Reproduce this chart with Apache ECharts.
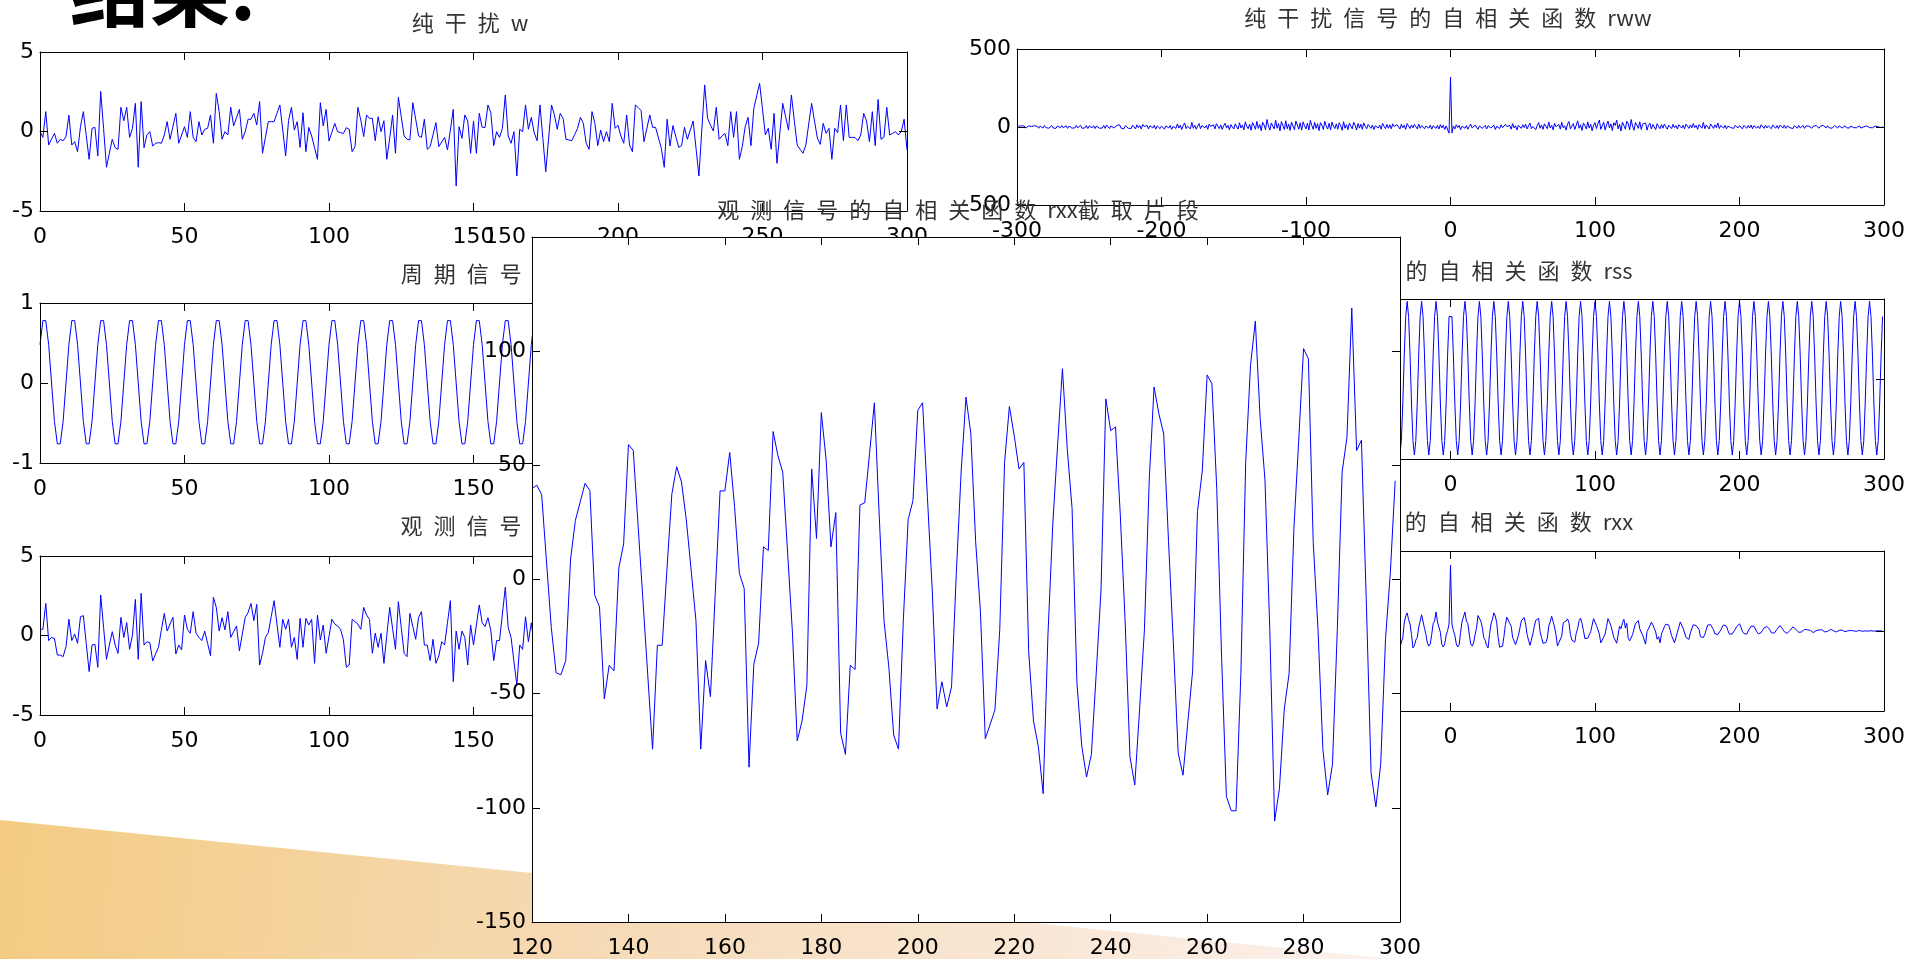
<!DOCTYPE html>
<html><head><meta charset="utf-8">
<script src="https://cdn.jsdelivr.net/npm/echarts/dist/echarts.min.js"></script>
<style>html,body{margin:0;padding:0;background:#fff;overflow:hidden}#c{width:1909px;height:959px}</style>
</head><body><div id="c"></div>
<script>
// ---------- data ----------
// 纯干扰 w, n = 0..300
const wData = [
0.0,-0.37,1.25,-0.85,-0.48,-0.12,-0.74,-0.49,-0.58,-0.32,
1.02,-0.85,-0.64,-1.27,0.30,1.25,-0.25,-1.75,0.20,0.26,
-1.54,2.52,0.20,-2.25,-1.37,-0.49,-1.02,-1.12,1.52,0.68,
1.52,-0.37,0.20,1.77,-2.25,1.88,-1.02,-0.22,-0.01,-0.91,
-0.74,-0.70,-0.74,-0.22,0.62,-0.49,0.32,1.14,-0.74,-0.22,
0.30,-0.37,1.25,-0.37,-0.64,0.62,-0.22,0.14,0.20,1.04,
-0.74,2.40,1.25,-0.49,-0.01,-0.22,1.52,0.35,0.87,1.39,
-0.49,-0.01,0.77,0.77,1.14,0.41,1.88,-1.37,-0.37,0.62,
0.62,0.62,1.14,1.67,0.09,-1.54,0.68,1.52,0.09,0.62,
-1.0,1.18,-1.27,0.26,-0.28,-1.02,-1.75,1.81,0.35,1.39,
-0.60,-0.05,0.51,-0.01,-0.07,-0.12,0.24,0.14,-1.27,-0.95,
1.52,0.72,-0.32,1.04,0.83,0.83,-0.58,0.93,-0.01,0.68,
-1.75,-0.43,1.04,-1.37,2.15,0.93,-0.28,-0.49,-0.53,1.81,
0.77,-0.28,-0.37,0.77,-1.12,-0.95,-0.2,0.56,-0.95,-0.66,
-0.37,-1.16,0.09,1.39,-3.43,0.30,-0.43,1.04,0.66,-1.37,
0.66,-1.37,
1.14,0.26,0.26,1.67,1.18,-0.89,-0.01,-0.37,0.20,2.30,
-0.28,-0.74,-0.01,-2.80,0.14,-0.01,1.67,0.14,0.89,-0.07,
-0.58,1.67,-0.43,-2.53,-0.43,1.67,1.04,0.14,1.14,0.83,
-0.49,-0.53,-0.58,-0.2,0.20,0.89,0.51,-0.74,-1.12,1.25,
0.51,-0.89,0.09,-0.64,-0.01,-0.64,1.77,0.20,0.39,-0.28,
-0.74,1.04,-0.85,-1.27,1.67,1.5,1.31,-0.64,0.20,1.04,
0.26,0.26,-0.4,-1.06,-2.25,0.77,-0.91,0.37,-0.32,-1.0,
-0.89,0.26,-0.49,0.09,0.66,-1.06,-2.80,0.1,2.93,0.83,
0.4,0.03,1.52,-0.49,-0.28,-0.12,-0.89,1.25,-0.37,1.25,
-1.75,-0.95,0.30,0.89,-0.89,1.46,2.25,3.03,1.4,-0.22,
0.20,-1.12,1.14,-2.0,-0.1,1.77,0.93,0.09,2.30,0.7,
-0.85,-1.12,-1.37,-0.85,0.47,1.77,0.65,-0.43,-0.81,0.51,
-0.12,0.20,-1.75,0.20,-0.07,1.67,-0.58,1.67,-0.37,-0.37,
-0.37,-0.58,-0.22,1.14,0.66,-0.64,1.25,-0.89,2.02,-0.49,
-0.37,1.52,-0.22,-0.12,-0.01,-0.22,-0.01,0.77,-1.16
];
// 周期信号 s, n = 0..175 (rest hidden under the inset)
const sData = [
0.48,0.78,0.78,0.48,0,-0.48,-0.76,-0.76,-0.48,0,
0.48,0.78,0.78,0.48,0,-0.48,-0.76,-0.76,-0.48,0,
0.48,0.78,0.78,0.48,0,-0.48,-0.76,-0.76,-0.48,0,
0.48,0.78,0.78,0.48,0,-0.48,-0.76,-0.76,-0.48,0,
0.48,0.78,0.78,0.48,0,-0.48,-0.76,-0.76,-0.48,0,
0.48,0.78,0.78,0.48,0,-0.48,-0.76,-0.76,-0.48,0,
0.48,0.78,0.78,0.48,0,-0.48,-0.76,-0.76,-0.48,0,
0.48,0.78,0.78,0.48,0,-0.48,-0.76,-0.76,-0.48,0,
0.48,0.78,0.78,0.48,0,-0.48,-0.76,-0.76,-0.48,0,
0.48,0.78,0.78,0.48,0,-0.48,-0.76,-0.76,-0.48,0,
0.48,0.78,0.78,0.48,0,-0.48,-0.76,-0.76,-0.48,0,
0.48,0.78,0.78,0.48,0,-0.48,-0.76,-0.76,-0.48,0,
0.48,0.78,0.78,0.48,0,-0.48,-0.76,-0.76,-0.48,0,
0.48,0.78,0.78,0.48,0,-0.48,-0.76,-0.76,-0.48,0,
0.48,0.78,0.78,0.48,0,-0.48,-0.76,-0.76,-0.48,0,
0.48,0.78,0.78,0.48,0,-0.48,-0.76,-0.76,-0.48,0,
0.48,0.78,0.78,0.48,0,-0.48,-0.76,-0.76,-0.48,0,
0.48,0.78,0.78,0.48,0,-0.48
];
// 观测信号 x, n = 0..173
const xData = [
0.39,0.39,2.02,-0.32,-0.12,-0.18,-1.23,-1.23,-1.33,-0.70,
1.02,-0.32,0.09,-0.49,1.18,1.25,-0.5,-2.27,-0.60,-0.56,
-2.0,2.55,0.51,-1.50,-0.6,0.24,-0.60,-1.12,1.14,-0.12,
0.81,-0.87,0.03,2.27,-1.50,2.65,-0.60,-0.39,-0.45,-1.60,
-1.16,-0.74,0.35,1.39,0.28,0.72,1.14,-1.16,-0.6,-0.91,
1.29,0.39,0.14,1.50,0.14,-0.12,-0.32,0.28,-0.5,-1.27,
2.40,1.77,0.28,1.12,0.35,1.50,-0.12,0.24,0.60,-0.96,
0.09,1.14,1.44,2.02,0.93,1.96,-1.86,-1.12,-0.12,0.18,
1.18,2.19,0.72,-0.74,1.02,0.39,1.02,-0.74,-0.12,-1.50,
1.08,-0.74,1.08,0.66,1.02,-1.75,1.29,-0.28,0.66,-1.12,
-0.07,1.02,0.72,0.60,0.39,-0.28,-2.0,-1.86,1.02,0.87,
0.72,0.39,1.77,1.29,1.02,-1.12,0.14,-0.74,0.14,-1.75,
0.01,1.77,0.45,-0.87,2.13,0.5,-1.12,-1.33,1.39,0.57,
-0.24,1.14,1.50,-0.60,-0.60,-1.58,-0.24,-1.75,-1.29,-0.39,
-0.60,0.81,2.19,-2.90,0.28,-0.87,0.28,-0.12,-1.86,0.66,
-0.60,0.66,1.92,0.81,0.56,1.12,0.30,-1.58,-0.32,-0.32,
1.35,3.03,0.51,-0.12,-1.65,-3.11,-0.60,-0.87,1.18,-0.39,
0.8,-0.5,1.0,0.2
];
// 纯干扰信号的自相关函数 rww, lag -299..299
const rwwLagStart = -299;
const rwwData = [
5,-6,8,-3,6,-7,4,7,-5,3,
-6,8,-2,5,-8,6,3,-7,9,-4,
6,-8,4,9,-6,3,-9,7,5,-5,
9,-5,2,8,-9,6,10,-7,3,-6,
10,-6,5,11,-8,4,-6,9,-10,7,
11,-5,8,-10,6,12,-8,4,-7,10,
-9,13,4,-10,7,14,-6,-11,9,4,
14,-7,5,-12,9,16,-8,4,-10,12,
6,-12,14,-5,9,-13,16,3,-8,10,
-13,8,16,-6,11,-14,7,18,-10,5,
11,-13,7,18,-6,10,-15,4,13,-9,
20,-7,12,-16,8,26,-10,5,14,-12,
30,-8,11,-14,6,22,-11,9,17,-6,
10,-15,19,3,-9,14,-12,21,5,-10,
13,-16,8,24,-7,11,-18,15,6,-13,
20,9,-14,27,-6,12,-19,33,4,-11,
18,-21,28,10,-15,36,-9,16,-24,30,
12,-17,48,7,-20,26,14,-12,44,-8,
22,-25,35,9,-16,40,-11,19,-22,31,
6,-18,38,13,-14,27,-20,33,8,-12,
25,-19,42,10,-15,30,-9,21,-23,28,
11,-16,36,7,-13,24,-18,32,5,-10,
20,-14,27,9,-21,34,-8,15,-17,25,
6,-12,30,11,-19,22,-7,18,-15,26,
4,-11,16,21,-9,13,-16,8,19,-6,
12,-14,23,5,-10,17,-8,14,-12,20,
3,-9,15,10,-13,18,-5,11,-15,22,
7,-10,13,-6,16,4,-12,19,-8,9,
14,-11,6,17,-7,12,-14,8,18,-9,
10,-13,15,-6,11,-16,7,12,-40,
320,
-38,6,-12,14,-4,10,-17,5,13,-8,
9,-14,3,18,-6,-11,12,4,-15,7,
16,-9,-3,11,-13,8,20,-7,-2,12,
-16,5,9,-10,14,-5,-12,17,3,-8,
10,-14,22,-6,8,-19,11,4,-9,15,
-4,18,-12,7,25,-10,3,14,-17,9,
28,-8,12,-15,20,5,-11,32,-6,10,
-18,24,2,-9,16,-14,30,-5,8,-20,
19,35,-12,6,22,-16,11,40,-8,14,
-22,26,9,-13,33,-7,18,-24,12,28,
-10,21,45,-15,8,30,-19,14,38,-6,
20,-23,27,10,44,-12,17,-26,31,9,
-14,36,22,-18,48,5,-21,29,13,-9,
33,-16,19,7,26,-20,11,24,-13,16,
8,-17,21,4,-11,15,-8,19,2,-14,
12,6,-10,17,-5,9,-13,14,3,-7,
11,-12,18,5,-9,13,-6,22,-4,10,
-15,16,7,-8,30,-11,12,4,-13,20,
8,-9,14,-5,26,-10,9,15,-7,11,
-12,6,13,-4,8,-9,10,3,-6,9,
8,-12,10,15,-8,9,-6,13,-11,8,
12,-7,6,-10,14,4,-9,11,-6,7,
10,-11,13,3,-8,9,-10,12,4,-7,
11,-9,7,10,-5,6,-10,9,3,-8,
10,-6,4,9,-9,7,-5,6,10,-8,
5,-7,9,3,-8,6,-5,10,1,-6,
8,-5,6,-8,4,9,-3,-7,8,3,
-7,5,8,-5,3,-7,6,5,-4,8,
-5,3,7,-7,5,1,-6,7,3,-4,
6,-5,3,6,-4,1,4,-4,3
];
// 周期信号的自相关函数 rss, lag -36..299 (left part hidden under the inset)
const rssLagStart = -36;
const rssData = [
-77,-95,-77,-30,30,78,
97,78,30,-30,-77,-95,-77,-30,30,78,
97,78,30,-30,-77,-95,-77,-30,30,78,
97,78,30,-30,-77,-95,-77,-30,30,78,
80,78,30,-30,-77,-95,-77,-30,30,78,
97,78,30,-30,-77,-95,-77,-30,30,78,
97,78,30,-30,-77,-95,-77,-30,30,78,
97,78,30,-30,-77,-95,-77,-30,30,78,
97,78,30,-30,-77,-95,-77,-30,30,78,
97,78,30,-30,-77,-95,-77,-30,30,78,
97,78,30,-30,-77,-95,-77,-30,30,78,
97,78,30,-30,-77,-95,-77,-30,30,78,
97,78,30,-30,-77,-95,-77,-30,30,78,
97,78,30,-30,-77,-95,-77,-30,30,78,
97,78,30,-30,-77,-95,-77,-30,30,78,
97,78,30,-30,-77,-95,-77,-30,30,78,
97,78,30,-30,-77,-95,-77,-30,30,78,
97,78,30,-30,-77,-95,-77,-30,30,78,
97,78,30,-30,-77,-95,-77,-30,30,78,
97,78,30,-30,-77,-95,-77,-30,30,78,
97,78,30,-30,-77,-95,-77,-30,30,78,
97,78,30,-30,-77,-95,-77,-30,30,78,
97,78,30,-30,-77,-95,-77,-30,30,78,
97,78,30,-30,-77,-95,-77,-30,30,78,
97,78,30,-30,-77,-95,-77,-30,30,78,
97,78,30,-30,-77,-95,-77,-30,30,78,
97,78,30,-30,-77,-95,-77,-30,30,78,
97,78,30,-30,-77,-95,-77,-30,30,78,
97,78,30,-30,-77,-95,-77,-30,30,78,
97,78,30,-30,-77,-95,-77,-30,30,78,
97,78,30,-30,-77,-95,-77,-30,30,78,
97,78,30,-30,-77,-95,-77,-30,30,78,
97,78,30,-30,-77,-95,-77,-30,30,78,
97,78,30,-30,-77,-95,-77,-30,30,78
];
// 观测信号的自相关函数 rxx, lag -35..299 (left part hidden under the inset)
const rxxLagStart = -35;
const rxxData = [
-101.3,-101.3,-41.3,51.3,93.8,113.1,70.6,43.6,-22,-105.8,-91.5,-56.7,-41.3,22.4,61,101.1,96.7,16.6,-22,-74.1,-94.4,-80.9,-22,47.1,62.3,118.9,56.5,61,-8.5,-84.7,-99.6,-80.9,-25.9,3.1,43.2,
412,
43.2,3.1,-25.9,-80.9,-99.6,-84.7,-8.5,61,56.5,118.9,
62.3,47.1,-22,-80.9,-94.4,-74.1,-22,16.6,96.7,101.1,
61,22.4,-41.3,-56.7,-91.5,-105.8,-22,43.6,70.6,113.1,
93.8,51.3,-41.3,-101.3,-101.3,-95,-33.6,39.8,85.7,89.6,
47.5,29.7,-40,-62.5,-85.7,-76,-27.8,16.6,63.7,72.6,
84.3,43.6,-22,-56.7,-90,-77.6,-18.1,28.2,66.8,65.2,
79.1,-4.6,-41.3,-76.6,-86.5,-72.8,-45.2,31.1,57.1,92.3,
59,24.3,-23.9,-93.8,-73.1,-62,-31.7,51.3,48.4,62.9,
75.8,51.3,-22,-57.1,-63.5,-69.7,-14.3,16.6,63.9,79.9,
47.5,3.1,-47.1,-55.8,-44.8,-56.7,-4.6,35.9,77.4,74.1,
34.5,26.2,-18.1,-74.3,-68.1,-38.4,-18.1,28.2,77.4,55.2,
33.6,32.6,-39.4,-37.6,-76.6,-67.2,29.3,14.3,52.3,73.1,
18.0,48.4,-46.5,-62.0,-70.6,-23.0,12.0,46.9,54.2,64.8,
12.7,14.3,-27.8,-37.1,-82.2,-3.9,2.7,32.0,55.6,38.8,
38.8,-6.2,-51.3,-35.5,-74.3,-18.1,4.1,26.2,42.7,49.4,
37.4,5.0,-28.8,-28.8,-74.3,-41.7,-8.9,23.7,56.5,59.1,
15.6,5.0,-40.0,-37.6,-52.3,-12.0,-6.9,39.0,42.1,34.0,
25.9,8.9,-35.5,-41.7,-40.9,-21.0,8.1,37.2,41.3,39.8,
30,8,-18,-28,-22,-12,5,25,38,42,
30,2,-20,-25,-18,-8,10,28,40,45,
25,-2,-15,-22,-20,0,15,30,36,30,
18,-5,-18,-20,-10,5,20,32,28,22,
8,-10,-16,-14,-6,12,24,34,22,10,
-4,-12,-15,-8,4,14,26,18,10,2,
-8,-12,-6,4,10,16,8,14,4,-4,
-10,-6,2,12,6,14,8,0,-6,-8,
-2,6,10,8,2,-3,-6,-2,4,8,
6,2,-4,-3,1,5,3,6,1,-3,
-2,2,4,1,-2,3,1,2,-1,1,
2,0,-1,2,1,0,1,0,0
];
// 观测信号的自相关函数 rxx 截取片段, index 120..299
const segStart = 120;
const segData = [
39.8,41.3,37.2,8.1,-21.0,-40.9,-41.7,-35.5,8.9,25.9,
34.0,42.1,39.0,-6.9,-12.0,-52.3,-37.6,-40.0,5.0,15.6,
59.1,56.5,23.7,-8.9,-41.7,-74.3,-28.8,-28.8,5.0,37.4,
49.4,42.7,26.2,4.1,-18.1,-74.3,-35.5,-51.3,-6.2,38.8,
38.8,55.6,32.0,2.7,-3.9,-82.2,-37.1,-27.8,14.3,12.7,
64.8,54.2,46.9,12.0,-23.0,-70.6,-62.0,-46.5,48.4,18.0,
73.1,52.3,14.3,29.3,-67.2,-76.6,-37.6,-39.4,32.6,33.6,
55.2,77.4,28.2,-18.1,-38.4,-68.1,-74.3,-18.1,26.2,34.5,
74.1,77.4,35.9,-4.6,-56.7,-44.8,-55.8,-47.1,3.1,47.5,
79.9,63.9,16.6,-14.3,-69.7,-63.5,-57.1,-22,51.3,75.8,
62.9,48.4,51.3,-31.7,-62,-73.1,-93.8,-23.9,24.3,59,
92.3,57.1,31.1,-45.2,-72.8,-86.5,-76.6,-41.3,-4.6,79.1,
65.2,66.8,28.2,-18.1,-77.6,-90,-56.7,-22,43.6,84.3,
72.6,63.7,16.6,-27.8,-76,-85.7,-62.5,-40,29.7,47.5,
89.6,85.7,39.8,-33.6,-95,-101.3,-101.3,-41.3,51.3,93.8,
113.1,70.6,43.6,-22,-105.8,-91.5,-56.7,-41.3,22.4,61,
101.1,96.7,16.6,-22,-74.1,-94.4,-80.9,-22,47.1,62.3,
118.9,56.5,61,-8.5,-84.7,-99.6,-80.9,-25.9,3.1,43.2
];
const titleW   = '纯\u2002干\u2002扰\u2002w';
const titleRww = '纯\u2002干\u2002扰\u2002信\u2002号\u2002的\u2002自\u2002相\u2002关\u2002函\u2002数\u2002rww';
const titleS   = '周\u2002期\u2002信\u2002号\u2002s';
const titleRss = '周\u2002期\u2002信\u2002号\u2002的\u2002自\u2002相\u2002关\u2002函\u2002数\u2002rss';
const titleX   = '观\u2002测\u2002信\u2002号\u2002x';
const titleRxx = '观\u2002测\u2002信\u2002号\u2002的\u2002自\u2002相\u2002关\u2002函\u2002数\u2002rxx';
const titleSeg = '观\u2002测\u2002信\u2002号\u2002的\u2002自\u2002相\u2002关\u2002函\u2002数\u2002rxx截\u2002取\u2002片\u2002段';
const heading  = '结果:';

// ---------- chart ----------
const pairs = (arr, start) => arr.map((v, i) => [start + i, v]);
const panels = [
  {grid:{left:40,  top:52,  width:867, height:159}, x:[0,300,50],    y:[-5,5,5],       data:pairs(wData,0)},
  {grid:{left:1017,top:49,  width:867, height:156}, x:[-300,300,100],y:[-500,500,500], data:pairs(rwwData,rwwLagStart)},
  {grid:{left:40,  top:303, width:867, height:160}, x:[0,300,50],    y:[-1,1,1],       data:pairs(sData,0)},
  {grid:{left:1017,top:299, width:867, height:160}, x:[-300,300,100],y:[-100,100,100], data:pairs(rssData,rssLagStart)},
  {grid:{left:40,  top:556, width:867, height:159}, x:[0,300,50],    y:[-5,5,5],       data:pairs(xData,0)},
  {grid:{left:1017,top:551, width:867, height:160}, x:[-300,300,100],y:[-500,500,500], data:pairs(rxxData,rxxLagStart)},
  {grid:{left:532, top:237, width:868, height:685}, x:[120,300,20],  y:[-150,150,50],  data:pairs(segData,segStart), inset:true}
];
const labelStyle = {color:'#000', fontFamily:'DejaVu Sans', fontSize:22};
const grid=[], xAxis=[], yAxis=[], series=[];
panels.forEach((p, i) => {
  const zb = p.inset ? 10 : 0;
  grid.push(Object.assign({show: !!p.inset, backgroundColor:'#fff', borderWidth:0, z:zb}, p.grid));
  const base = {gridIndex:i, type:'value', splitLine:{show:false},
    axisLine:{onZero:false, lineStyle:{color:'#000', width:1}},
    axisTick:{inside:true, length:8, lineStyle:{color:'#000', width:1}}, z:zb+3};
  const bx = Object.assign({}, base, {min:p.x[0], max:p.x[1], interval:p.x[2]});
  const by = Object.assign({}, base, {min:p.y[0], max:p.y[1], interval:p.y[2]});
  xAxis.push(Object.assign({}, bx, {position:'bottom', axisLabel:Object.assign({margin:15, showMinLabel:true, showMaxLabel:true}, labelStyle)}));
  xAxis.push(Object.assign({}, bx, {position:'top', axisLabel:{show:false}}));
  yAxis.push(Object.assign({}, by, {position:'left', axisLabel:Object.assign({margin:6, showMinLabel:true, showMaxLabel:true}, labelStyle)}));
  yAxis.push(Object.assign({}, by, {position:'right', axisLabel:{show:false}}));
  series.push({type:'line', xAxisIndex:2*i, yAxisIndex:2*i, data:p.data, showSymbol:false, symbol:'none',
    lineStyle:{color:'#0000ff', width:1}, z:zb+2, silent:true, animation:false});
});
const tfont = '22px "Noto Sans CJK SC"';
const mkTitle = (text, x, y, z) => ({type:'text', x:x, y:y, z:z, silent:true,
  style:{text:text, font:tfont, fill:'#333', textAlign:'center', textVerticalAlign:'middle', align:'center', verticalAlign:'middle'}});
const graphic = [
  {type:'polygon', z:0, silent:true, shape:{points:[[0,820],[1395,959],[0,959]]},
   style:{fill:{type:'linear', x:0, y:0, x2:1, y2:1, colorStops:[{offset:0,color:'#f3cb82'},{offset:0.45,color:'#f6dbb8'},{offset:1,color:'#fcf1ee'}]}}},
  {type:'text', x:70, y:-10, z:1, silent:true,
   style:{text:heading, font:'bold 80px "Noto Sans CJK SC"', fill:'#000', textAlign:'left', textVerticalAlign:'middle', align:'left', verticalAlign:'middle'}},
  mkTitle(titleW, 470, 23, 1),
  mkTitle(titleRww, 1448, 18, 1),
  mkTitle(titleS, 472, 274, 1),
  mkTitle(titleRss, 1453, 271, 1),
  mkTitle(titleX, 472, 526, 1),
  mkTitle(titleRxx, 1453, 522, 1),
  mkTitle(titleSeg, 958, 210, 30)
];
const chart = echarts.init(document.getElementById('c'), null, {renderer:'canvas'});
chart.setOption({animation:false, backgroundColor:'#fff', grid, xAxis, yAxis, series, graphic});
</script>
</body></html>
